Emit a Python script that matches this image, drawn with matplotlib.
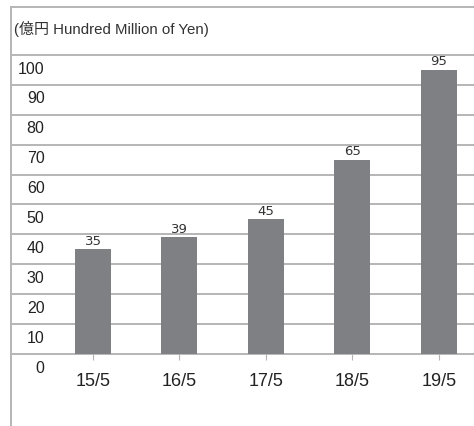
import matplotlib
matplotlib.use("Agg")
import matplotlib.pyplot as plt
from matplotlib import font_manager

plt.rcParams['font.family'] = ['Liberation Sans', 'Noto Sans CJK JP', 'DejaVu Sans']

years = ['15/5', '16/5', '17/5', '18/5', '19/5']
values = [35, 39, 45, 65, 95]
yticks = [0, 10, 20, 30, 40, 50, 60, 70, 80, 90, 100]
unit_label = '(億円 Hundred Million of Yen)'

names = {f.name for f in font_manager.fontManager.ttflist}
narrow = 'Liberation Sans Narrow' if 'Liberation Sans Narrow' in names else 'DejaVu Sans'

fig = plt.figure(figsize=(4.74, 4.27), dpi=100)
ax = fig.add_axes([11 / 474, 0, 1 - 11 / 474, 1 - 8 / 427])

x = list(range(len(years)))
ax.bar(x, values, width=0.416, color='#7f8084', zorder=3)

for v in yticks:
    ax.axhline(v, color='#b5b5b5', lw=1.4, zorder=1)
    ax.annotate(str(v), (-0.56, v), xytext=(0, -4), textcoords='offset points',
                ha='right', va='top', fontsize=11.5, color='#222222')

for xi, v in zip(x, values):
    ax.annotate(str(v), (xi, v), xytext=(0, 2), textcoords='offset points',
                ha='center', va='bottom', fontsize=9.5, color='#333333',
                family=narrow)

ax.text(0.006, 0.95, unit_label, transform=ax.transAxes, ha='left', va='center',
        fontsize=10.8, color='#333333')

ax.set_xlim(-0.948, 4.405)
ax.set_ylim(-24.08, 116.05)
ax.set_yticks([])
ax.set_xticks(x)
ax.set_xticklabels(years)
ax.spines['bottom'].set_position(('data', 0))
ax.spines['bottom'].set_visible(False)
ax.spines['right'].set_visible(False)
ax.spines['left'].set_color('#b5b5b5')
ax.spines['top'].set_color('#b5b5b5')
ax.spines['left'].set_linewidth(1.4)
ax.spines['top'].set_linewidth(1.4)
ax.tick_params(axis='x', length=4, color='#b5b5b5', pad=9, labelsize=13,
               labelcolor='#222222')

fig.savefig('out.png', dpi=100)
